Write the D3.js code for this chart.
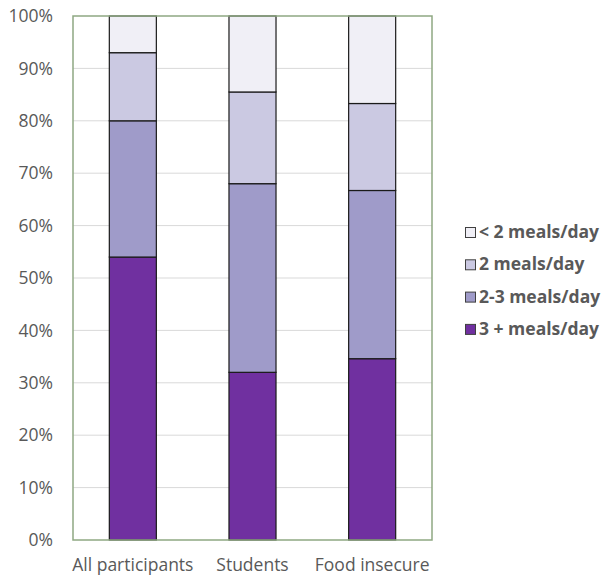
<!DOCTYPE html>
<html>
<head>
<meta charset="utf-8">
<script src="https://cdn.jsdelivr.net/npm/d3@7"></script>
<style>
  html, body { margin: 0; padding: 0; background: #fff; }
  svg { display: block; font-family: "Open Sans", "Liberation Sans", sans-serif; }
</style>
</head>
<body>
<svg id="chart" width="603" height="579"></svg>
<script>
// Groups shown along the x axis
const groups = ["All participants", "Students", "Food insecure"];

// Meal-frequency categories, bottom of the stack first
const series = ["3 + meals/day", "2-3 meals/day", "2 meals/day", "< 2 meals/day"];

// Share of each group (%) per category
const threePlus  = [54, 32, 34.6];
const twoToThree = [26, 36, 32.1];
const twoMeals   = [13, 17.5, 16.6];
const underTwo   = [7, 14.5, 16.7];

const yTicks = [0, 10, 20, 30, 40, 50, 60, 70, 80, 90, 100];

const colors = ["#7030A0", "#9F9BC9", "#CBC9E2", "#F0EFF6"];

const rows = groups.map((g, i) => ({
  group: g,
  [series[0]]: threePlus[i],
  [series[1]]: twoToThree[i],
  [series[2]]: twoMeals[i],
  [series[3]]: underTwo[i]
}));

const svg = d3.select("#chart");
const margin = { left: 73, top: 16, right: 171, bottom: 39 };
const W = 603, H = 579;
const x = d3.scaleBand().domain(groups).range([margin.left, W - margin.right]).paddingInner(0.607).paddingOuter(0.3035);
const y = d3.scaleLinear().domain([0, 100]).range([H - margin.bottom, margin.top]);
const color = d3.scaleOrdinal().domain(series).range(colors);

// Horizontal gridlines
svg.append("g")
  .selectAll("line")
  .data(yTicks.filter(t => t > 0 && t < 100))
  .join("line")
  .attr("x1", margin.left).attr("x2", W - margin.right)
  .attr("y1", d => y(d)).attr("y2", d => y(d))
  .attr("stroke", "#D9D9D9").attr("stroke-width", 1);

// Stacked bars
const stacked = d3.stack().keys(series)(rows);
svg.append("g")
  .selectAll("g")
  .data(stacked)
  .join("g")
  .attr("fill", d => color(d.key))
  .selectAll("rect")
  .data(d => d)
  .join("rect")
  .attr("x", d => x(d.data.group))
  .attr("width", x.bandwidth())
  .attr("y", d => y(d[1]))
  .attr("height", d => y(d[0]) - y(d[1]))
  .attr("stroke", "#1a1a1a")
  .attr("stroke-width", 1.2);

// Plot frame
svg.append("rect")
  .attr("x", margin.left).attr("y", margin.top)
  .attr("width", W - margin.right - margin.left)
  .attr("height", H - margin.bottom - margin.top)
  .attr("fill", "none")
  .attr("stroke", "#8FA882")
  .attr("stroke-width", 1.5);

// Y axis
const yAxis = d3.axisLeft(y).tickValues(yTicks).tickFormat(d => d + "%").tickSize(0).tickPadding(0);
const yg = svg.append("g").attr("transform", `translate(${margin.left - 20},0)`).call(yAxis);
yg.select(".domain").remove();
yg.selectAll("text").attr("fill", "#595959").attr("font-size", 17.5).attr("font-family", "'Open Sans', sans-serif");

// X axis
const xAxis = d3.axisBottom(x).tickSize(0).tickPadding(0);
const xg = svg.append("g").attr("transform", `translate(0,${H - margin.bottom + 19})`).call(xAxis);
xg.select(".domain").remove();
xg.selectAll("text").attr("fill", "#595959").attr("font-size", 17.5).attr("font-family", "'Open Sans', sans-serif");

// Legend, top category first
const legend = svg.append("g").attr("transform", "translate(465,232)");
const items = legend.selectAll("g")
  .data(series.slice().reverse())
  .join("g")
  .attr("transform", (d, i) => `translate(0,${i * 32.3})`);
items.append("rect")
  .attr("x", 0.5).attr("y", -4.5)
  .attr("width", 10).attr("height", 10)
  .attr("fill", d => color(d))
  .attr("stroke", "#404040").attr("stroke-width", 1);
items.append("text")
  .attr("x", 14).attr("y", 0)
  .attr("dy", "0.35em")
  .attr("fill", "#595959")
  .attr("font-size", 17.5)
  .attr("font-weight", "bold")
  .text(d => d);
</script>
</body>
</html>
